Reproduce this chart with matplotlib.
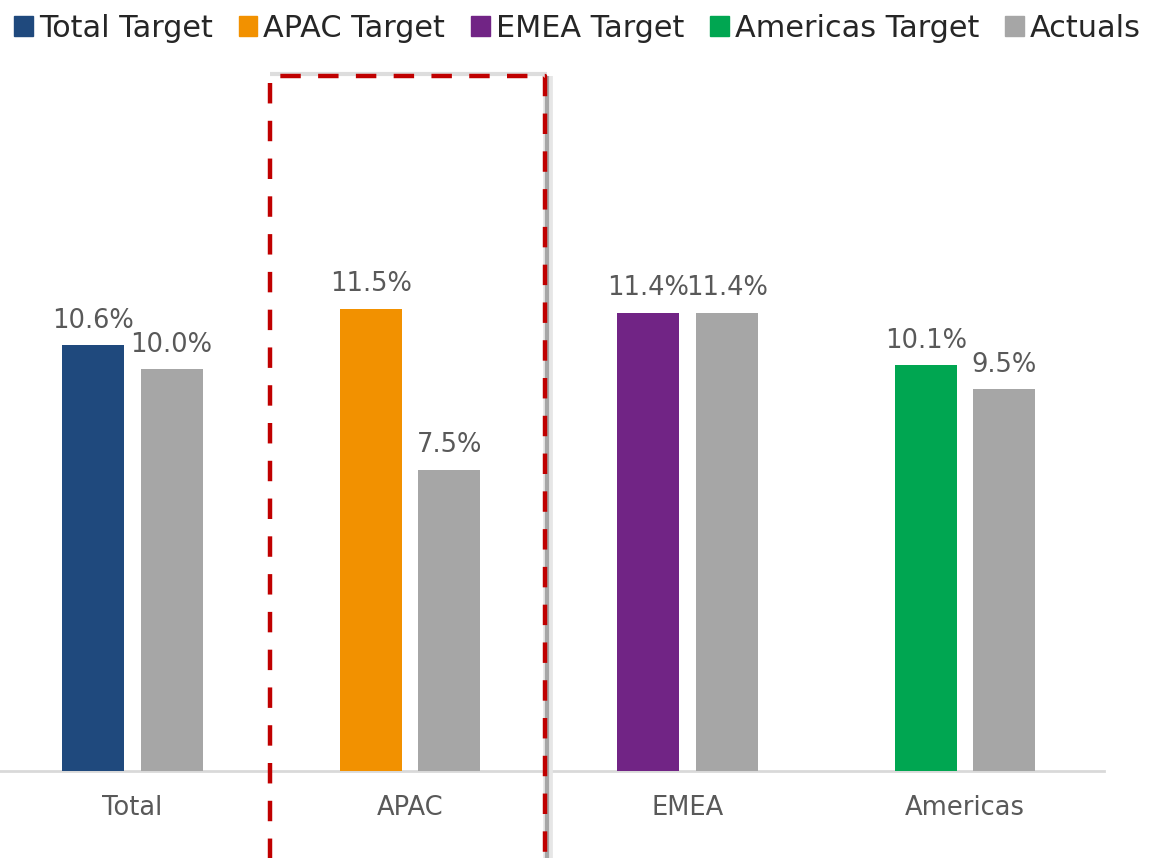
import matplotlib
matplotlib.use("Agg")
import matplotlib.pyplot as plt
import matplotlib.transforms as mtransforms
from matplotlib.patches import Patch
import numpy as np

# --- data ---
categories = ["Total", "APAC", "EMEA", "Americas"]
target_values = [10.6, 11.5, 11.4, 10.1]
actual_values = [10.0, 7.5, 11.4, 9.5]
target_names = ["Total Target", "APAC Target", "EMEA Target", "Americas Target"]
target_colors = ["#1F497D", "#F29100", "#712485", "#00A651"]
actual_color = "#A6A6A6"

plt.rcParams['font.family'] = ['DejaVu Sans']

W, H = 1155, 858
fig = plt.figure(figsize=(W / 100, H / 100), dpi=100)
ax_left = -6.5 / W
ax_right = 1104 / W
ax_bottom = 1 - 771 / H
ax_top = 1 - 76 / H
ax = fig.add_axes([ax_left, ax_bottom, ax_right - ax_left, ax_top - ax_bottom])

x = np.arange(len(categories))
bw = 0.223
off = 0.1414

tb = ax.bar(x - off, target_values, bw, color=target_colors, zorder=3)
ab = ax.bar(x + off, actual_values, bw, color=actual_color, zorder=3)

for bars, vals in ((tb, target_values), (ab, actual_values)):
    for b, v in zip(bars, vals):
        ax.text(b.get_x() + b.get_width() / 2, v + 0.28, f"{v:.1f}%",
                ha="center", va="bottom", fontsize=18.5, color="#595959")

ax.set_xlim(-0.5, len(categories) - 0.5)
ax.set_ylim(0, 695 / 40.2)
ax.set_xticks(x)
ax.set_xticklabels(categories, fontsize=18.5, color="#595959")
ax.tick_params(axis="x", length=0, pad=17)
ax.set_yticks([])
for s in ["top", "right", "left"]:
    ax.spines[s].set_visible(False)
ax.spines["bottom"].set_color("#D9D9D9")
ax.spines["bottom"].set_linewidth(2)
ax.spines["bottom"].set_zorder(1)

# dashed highlight box around APAC with soft shadow
trans = mtransforms.blended_transform_factory(ax.transData, fig.transFigure)
bx0, bx1 = 0.495, 1.485
by_top = 1 - 76 / H
ax.plot([bx1 + 0.012, bx1 + 0.012], [-0.01, by_top], transform=trans, color="#E6E6E6",
        lw=7, clip_on=False, zorder=4, solid_capstyle="butt")
ax.plot([bx1 + 0.008, bx1 + 0.008], [-0.01, by_top], transform=trans, color="#A6A6A6",
        lw=3, clip_on=False, zorder=4, solid_capstyle="butt")
ax.plot([bx0, bx1 + 0.01], [by_top + 0.002, by_top + 0.002], transform=trans, color="#DDDDDD",
        lw=3, clip_on=False, zorder=4, solid_capstyle="butt")
ax.plot([bx0, bx0, bx1, bx1], [-0.01, by_top, by_top, -0.01], transform=trans,
        color="#C00000", lw=3.2, ls=(0, (4.6, 3.9)), clip_on=False, zorder=5)

handles = [Patch(color=c) for c in target_colors] + [Patch(color=actual_color)]
labels = target_names + ["Actuals"]
fig.legend(handles, labels, loc="upper center", bbox_to_anchor=(0.5, 1.005), ncol=5,
           frameon=False, fontsize=21.8, handlelength=0.62, handleheight=0.62,
           handletextpad=0.2, columnspacing=0.85, borderaxespad=0.2, labelcolor="#262626")

fig.savefig("out.png", dpi=100)
